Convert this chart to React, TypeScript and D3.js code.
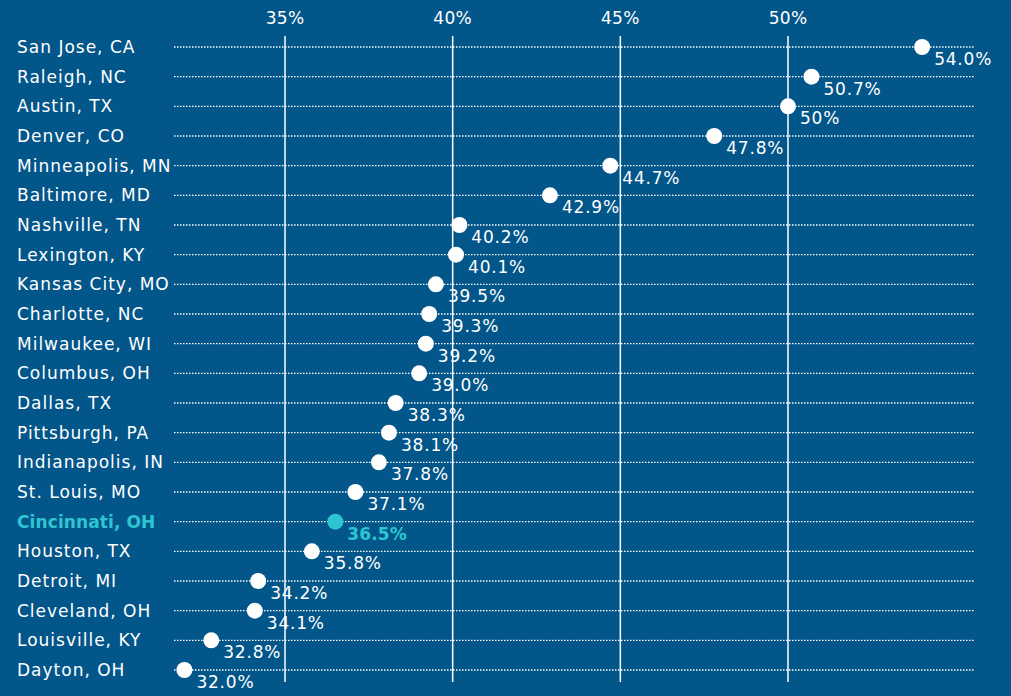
import React from "react";
import * as d3 from "d3";

const cities = [
  "San Jose, CA", "Raleigh, NC", "Austin, TX", "Denver, CO", "Minneapolis, MN",
  "Baltimore, MD", "Nashville, TN", "Lexington, KY", "Kansas City, MO", "Charlotte, NC",
  "Milwaukee, WI", "Columbus, OH", "Dallas, TX", "Pittsburgh, PA", "Indianapolis, IN",
  "St. Louis, MO", "Cincinnati, OH", "Houston, TX", "Detroit, MI", "Cleveland, OH",
  "Louisville, KY", "Dayton, OH",
];
const values = [54.0, 50.7, 50.0, 47.8, 44.7, 42.9, 40.2, 40.1, 39.5, 39.3, 39.2, 39.0, 38.3, 38.1, 37.8, 37.1, 36.5, 35.8, 34.2, 34.1, 32.8, 32.0];
const valueLabels = ["54.0%", "50.7%", "50%", "47.8%", "44.7%", "42.9%", "40.2%", "40.1%", "39.5%", "39.3%", "39.2%", "39.0%", "38.3%", "38.1%", "37.8%", "37.1%", "36.5%", "35.8%", "34.2%", "34.1%", "32.8%", "32.0%"];
const highlight = "Cincinnati, OH";
const ticks = [35, 40, 45, 50];

const W = 1011;
const H = 696;
const BG = "#02568a";
const TEAL = "#2ec5d3";
const FONT = "'DejaVu Sans', sans-serif";

export default function App() {
  const x = d3.scaleLinear().domain([35, 50]).range([285, 788]);
  const y = d3.scalePoint<string>().domain(cities).range([47, 670]);
  return (
    <svg width={W} height={H} style={{ position: "absolute", left: 0, top: 0, display: "block" }}>
      <rect width={W} height={H} fill={BG} />
      {ticks.map((t) => (
        <g key={t}>
          <line x1={x(t)} x2={x(t)} y1={36} y2={682} stroke="#ffffff" strokeWidth={1.5} />
          <text x={x(t)} y={24} textAnchor="middle" fill="#ffffff" fontFamily={FONT} fontSize={17} letterSpacing={0.3}>
            {t}%
          </text>
        </g>
      ))}
      {cities.map((c, i) => {
        const yy = y(c)!;
        const hi = c === highlight;
        const col = hi ? TEAL : "#ffffff";
        return (
          <g key={c}>
            <line x1={174} x2={974} y1={yy} y2={yy} stroke="#ffffff" strokeWidth={1.3} strokeDasharray="1.5,1.5" />
            <text x={17} y={yy + 6} fill={col} fontFamily={FONT} fontSize={17} letterSpacing={hi ? 0.1 : 1} fontWeight={hi ? 700 : 400}>
              {c}
            </text>
            <circle cx={x(values[i])} cy={yy} r={8} fill={col} />
            <text x={x(values[i]) + 12} y={yy + 18} fill={col} fontFamily={FONT} fontSize={17} letterSpacing={hi ? 0.1 : 0.8} fontWeight={hi ? 700 : 400}>
              {valueLabels[i]}
            </text>
          </g>
        );
      })}
    </svg>
  );
}
